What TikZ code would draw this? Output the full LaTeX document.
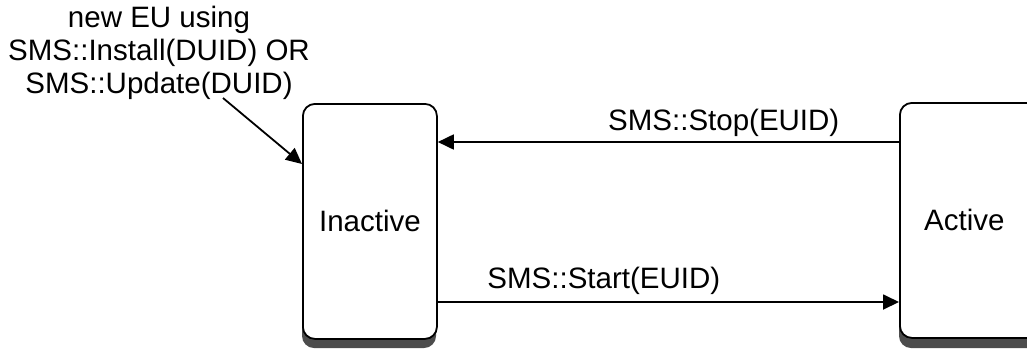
\documentclass[tikz,border=0pt]{standalone}
\usepackage{fontspec}
\setmainfont{Liberation Sans}
\usetikzlibrary{arrows.meta}
\begin{document}
\begin{tikzpicture}[x=1pt,y=-1pt,
  state/.style={draw=black, line width=1.8pt, fill=white, rounded corners=12pt, minimum width=134pt, minimum height=235pt, font=\fontsize{29.5}{34}\selectfont},
  shadowbox/.style={fill=black!70, rounded corners=12pt, draw=none},
  conn/.style={line width=1.8pt, -{Triangle[length=16pt,width=15pt]}},
  lbl/.style={font=\fontsize{29.5}{33}\selectfont, inner sep=1pt}]
\useasboundingbox (0,0) rectangle (1027,349);
\begin{scope}
\clip (0,0) rectangle (1027,349);
% shadows
\fill[shadowbox] (302,112) rectangle (436,348);
\fill[shadowbox] (899,112) rectangle (1040,348);
\node[state, anchor=north west] (inact) at (302,103) {Inactive};
\node[state, anchor=north west, minimum width=141pt] (act) at (899,102) {\hspace*{-12pt}Active};
\end{scope}
\node[lbl, align=center] (note) at (159,53) {new EU using\\SMS::Install(DUID) OR\\SMS::Update(DUID)};
\coordinate (nstart) at (223,98);
\coordinate (ntip) at (302,164);
\draw[conn] (nstart) -- (ntip);
\draw[conn] (act.west |- 0,142) -- node[lbl, above, pos=0.38, yshift=3pt] {SMS::Stop(EUID)} (inact.east |- 0,142);
\draw[conn] (inact.east |- 0,302) -- node[lbl, above, pos=0.36, yshift=6pt] {SMS::Start(EUID)} (act.west |- 0,302);
\end{tikzpicture}
\end{document}
